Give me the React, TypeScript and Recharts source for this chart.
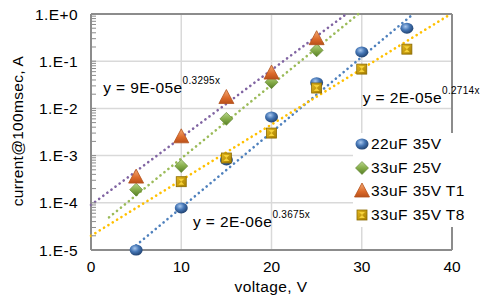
import React from 'react';
import {
  ComposedChart,
  Scatter,
  XAxis,
  YAxis,
  CartesianGrid,
  ReferenceLine,
  ReferenceDot,
  Label,
} from 'recharts';

// ---------- data ----------
const seriesNames = ['22uF 35V', '33uF 25V', '33uF 35V T1', '33uF 35V T8'];

const volts22u35V = [5, 10, 15, 20, 25, 30, 35];
const amps22u35V = [1.0e-5, 7.8e-5, 8.1e-4, 6.6e-3, 3.5e-2, 0.157, 0.5];

const volts33u25V = [5, 10, 15, 20, 25];
const amps33u25V = [1.9e-4, 6.0e-4, 6.0e-3, 3.6e-2, 0.17];

const volts33u35VT1 = [5, 10, 15, 20, 25];
const amps33u35VT1 = [3.5e-4, 2.5e-3, 1.7e-2, 5.6e-2, 0.3];

const volts33u35VT8 = [10, 15, 20, 25, 30, 35];
const amps33u35VT8 = [2.8e-4, 8.9e-4, 3.0e-3, 2.7e-2, 0.068, 0.18];

// exponential trendlines y = a * e^(b x), drawn over [xStart, xEnd]
const trendA = [2e-6, 2.4e-5, 9e-5, 2e-5];
const trendB = [0.3675, 0.359, 0.3295, 0.2714];
const trendXStart = [5, 2, 0, 0];
const trendXEnd = [35.7, 29.6, 28.3, 39.7];

// equation labels (as shown on the chart) and their anchor in data units
const eqPrefix = ['y = 2E-06e', 'y = 9E-05e', 'y = 2E-05e'];
const eqExp = ['0.3675x', '0.3295x', '0.2714x'];
const eqX = [11.3, 1.35, 30.1];
const eqY = [3.1e-5, 0.0212, 0.013];

const xTicks = [0, 10, 20, 30, 40];
const yMajorTicks = [1e-5, 1e-4, 1e-3, 1e-2, 1e-1, 1];
const yTickLabels = ['1.E-5', '1.E-4', '1.E-3', '1.E-2', '1.E-1', '1.E+0'];

// ---------- styling ----------
const FONT = '"Liberation Sans", Arial, sans-serif';
const AXIS = '#8c8c8c';
const GRID = '#d9d9d9';
const trendColors = ['#4f81bd', '#9bbb59', '#8064a2', '#ffc000'];

const yMinorTicks: number[] = [];
for (let d = 0; d < yMajorTicks.length - 1; d++) {
  for (let m = 2; m <= 9; m++) yMinorTicks.push(yMajorTicks[d] * m);
}
const yAllTicks = [...yMajorTicks, ...yMinorTicks].sort((a, b) => a - b);

const zip = (xs: number[], ys: number[]) => xs.map((x, i) => ({ x, y: ys[i] }));

const scatterData = [
  zip(volts22u35V, amps22u35V),
  zip(volts33u25V, amps33u25V),
  zip(volts33u35VT1, amps33u35VT1),
  zip(volts33u35VT8, amps33u35VT8),
];

const trendData = trendA.map((a, i) => [
  { x: trendXStart[i], y: a * Math.exp(trendB[i] * trendXStart[i]) },
  { x: trendXEnd[i], y: Math.min(1, a * Math.exp(trendB[i] * trendXEnd[i])) },
]);

// ---------- marker shapes ----------
const drawMarker = (kind: number, cx: number, cy: number) => {
  switch (kind) {
    case 0:
      return <ellipse cx={cx} cy={cy} rx={6.5} ry={5.5} fill="url(#gBlue)" />;
    case 1:
      return (
        <polygon
          points={`${cx},${cy - 6.5} ${cx + 6.5},${cy} ${cx},${cy + 6.5} ${cx - 6.5},${cy}`}
          fill="url(#gGreen)"
          stroke="#5d7f2e"
          strokeWidth={0.6}
        />
      );
    case 2:
      return (
        <polygon
          points={`${cx},${cy - 8} ${cx + 7.5},${cy + 6} ${cx - 7.5},${cy + 6}`}
          fill="url(#gOrange)"
          stroke="#b4521c"
          strokeWidth={0.8}
        />
      );
    default:
      return (
        <g>
          <rect x={cx - 5} y={cy - 5} width={10} height={10} fill="url(#gGold)" stroke="#8a6a00" strokeWidth={0.8} />
          <polygon points={`${cx - 3},${cy - 3} ${cx + 3},${cy - 3} ${cx},${cy} `} fill="#f6d23a" />
          <polygon points={`${cx - 3},${cy + 3} ${cx + 3},${cy + 3} ${cx},${cy} `} fill="#f6d23a" />
        </g>
      );
  }
};

const Defs = () => (
  <defs>
    <radialGradient id="gBlue" cx="40%" cy="35%" r="70%">
      <stop offset="0%" stopColor="#a9c8ee" />
      <stop offset="45%" stopColor="#4677b6" />
      <stop offset="100%" stopColor="#1c3c69" />
    </radialGradient>
    <linearGradient id="gGreen" x1="0" y1="0" x2="0" y2="1">
      <stop offset="0%" stopColor="#b9d78e" />
      <stop offset="50%" stopColor="#86ad4a" />
      <stop offset="100%" stopColor="#557d25" />
    </linearGradient>
    <linearGradient id="gOrange" x1="0" y1="0" x2="0" y2="1">
      <stop offset="0%" stopColor="#f5ad78" />
      <stop offset="60%" stopColor="#dc6a2a" />
      <stop offset="100%" stopColor="#b9501a" />
    </linearGradient>
    <linearGradient id="gGold" x1="0" y1="0" x2="1" y2="1">
      <stop offset="0%" stopColor="#e4b820" />
      <stop offset="100%" stopColor="#a77f00" />
    </linearGradient>
  </defs>
);

const YTick = (props: any) => {
  const { x, y, payload } = props;
  const v = payload.value;
  const idx = yMajorTicks.findIndex((t) => Math.abs(t - v) / t < 1e-6);
  return (
    <g>
      <line x1={x} x2={x + 5} y1={y} y2={y} stroke={AXIS} strokeWidth={1} />
      {idx >= 0 && (
        <text x={x - 13} y={y} dy={5.5} textAnchor="end" fontSize={15.5} letterSpacing={0.4} fill="#000" fontFamily={FONT}>
          {yTickLabels[idx]}
        </text>
      )}
    </g>
  );
};

const XTick = (props: any) => {
  const { x, y, payload } = props;
  return (
    <text x={x} y={y} dy={22} textAnchor="middle" fontSize={15.5} fill="#000" fontFamily={FONT}>
      {payload.value}
    </text>
  );
};

const Equation = (i: number) => (props: any) => {
  const { cx, cy } = props;
  return (
    <text x={cx} y={cy} fontSize={15.5} letterSpacing={0.4} fill="#000" fontFamily={FONT}>
      {eqPrefix[i]}
      <tspan fontSize={10} dy={-9} letterSpacing={0.3}>
        {eqExp[i]}
      </tspan>
    </text>
  );
};

const LegendBox = () => (
  <div
    style={{
      position: 'absolute',
      left: 353,
      top: 133,
      width: 107,
      height: 94,
      background: '#fff',
      fontFamily: FONT,
      fontSize: 15.5,
      letterSpacing: 0.4,
      color: '#000',
    }}
  >
    {seriesNames.map((name, i) => (
      <div
        key={name}
        style={{
          position: 'absolute',
          left: 0,
          top: 1 + i * 23.5,
          height: 20,
          display: 'flex',
          alignItems: 'center',
          whiteSpace: 'nowrap',
        }}
      >
        <svg width={18} height={20} style={{ display: 'block' }}>
          {drawMarker(i, 9, 10)}
        </svg>
        <span>{name}</span>
      </div>
    ))}
  </div>
);

export default function App() {
  return (
    <div style={{ position: 'absolute', left: 0, top: 0, width: 480, height: 299, background: '#fff' }}>
      <ComposedChart width={480} height={299} margin={{ top: 14, right: 28, bottom: 0, left: 0 }}>
        <Defs />
        <CartesianGrid horizontal={false} stroke={GRID} strokeWidth={1.5} />
        {yMajorTicks.slice(1, -1).map((v) => (
          <ReferenceLine key={v} y={v} stroke={GRID} strokeWidth={1.5} />
        ))}
        <XAxis
          type="number"
          dataKey="x"
          domain={[0, 40]}
          ticks={xTicks}
          height={49}
          tickLine={false}
          tickSize={0}
          tickMargin={0}
          tick={<XTick />}
          axisLine={{ stroke: AXIS, strokeWidth: 2 }}
          label={
            <Label
              content={() => (
                <text x={271} y={292} textAnchor="middle" fontSize={15.5} letterSpacing={0.4} fontFamily={FONT} fill="#000">
                  voltage,  V
                </text>
              )}
            />
          }
        />
        <YAxis
          type="number"
          dataKey="y"
          scale="log"
          domain={[1e-5, 1]}
          ticks={yAllTicks}
          interval={0}
          width={91}
          tickLine={false}
          tickSize={0}
          tickMargin={0}
          tick={<YTick />}
          axisLine={{ stroke: AXIS, strokeWidth: 2 }}
          label={
            <Label
              content={() => (
                <text
                  transform="translate(23,131) rotate(-90)"
                  textAnchor="middle"
                  fontSize={15.5}
                  letterSpacing={0.3}
                  fontFamily={FONT}
                  fill="#000"
                >
                  current@100msec, A
                </text>
              )}
            />
          }
        />
        <ReferenceLine y={1} stroke={AXIS} strokeWidth={2} />
        <ReferenceLine x={40} stroke={AXIS} strokeWidth={2} />

        {trendData.map((d, i) => (
          <Scatter
            key={'t' + i}
            data={d}
            isAnimationActive={false}
            line={{ stroke: trendColors[i], strokeWidth: 2.6, strokeDasharray: '0.1 5', strokeLinecap: 'round' }}
            shape={() => <g />}
          />
        ))}

        {scatterData.map((d, i) => (
          <Scatter
            key={'s' + i}
            name={seriesNames[i]}
            data={d}
            isAnimationActive={false}
            shape={(p: any) => drawMarker(i, p.cx, p.cy)}
          />
        ))}

        {eqPrefix.map((_, i) => (
          <ReferenceDot key={'e' + i} x={eqX[i]} y={eqY[i]} r={0} shape={Equation(i)} />
        ))}
      </ComposedChart>
      <LegendBox />
    </div>
  );
}
